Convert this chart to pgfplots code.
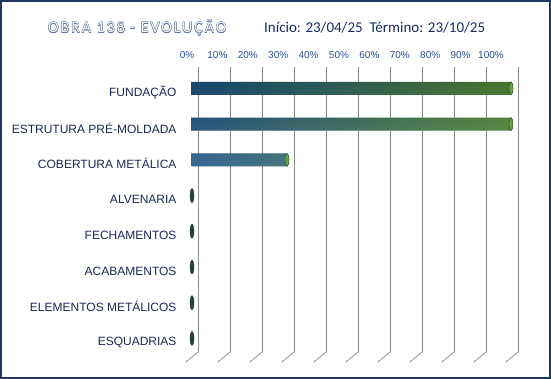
\documentclass[border=0pt]{standalone}
\usepackage{pgfplots}
\pgfplotsset{compat=1.18}
\usepackage{pgfplotstable}
\usepackage{fontspec}
\setmainfont{Liberation Sans}
\newfontfamily\calib{Carlito}
\newfontfamily\calibsp[LetterSpace=12]{Carlito}
\definecolor{frame}{RGB}{31,56,100}
\definecolor{barblue}{RGB}{30,88,140}
\definecolor{bargreen}{RGB}{92,148,60}
\definecolor{capgreen}{RGB}{104,162,70}
\definecolor{capedge}{RGB}{50,90,40}
\definecolor{zerogreen}{RGB}{36,66,50}
\definecolor{ticklab}{RGB}{40,80,150}
\definecolor{catlab}{RGB}{28,40,88}
\definecolor{titleedge}{RGB}{95,118,150}
\definecolor{titlefill}{RGB}{242,245,249}
\definecolor{datecol}{RGB}{25,45,100}
\pgfplotstableread{
idx value
0 100
1 100
2 30
3 0
4 0
5 0
6 0
7 0
}\progress
\begin{document}
\begin{tikzpicture}
\path[use as bounding box] (0pt,0pt) rectangle (551pt,379pt);
\fill[white] (0pt,0pt) rectangle (551pt,379pt);
\draw[frame, line width=2.2pt] (1.1pt,1.1pt) rectangle (549.9pt,377.9pt);
% title
\foreach \dx/\dy in {-0.3/0,0.3/0,0/-0.3,0/0.3,-0.22/-0.22,0.22/0.22,-0.22/0.22,0.22/-0.22}{
  \node[anchor=base west, inner sep=0pt, text=titleedge, font=\calibsp\fontsize{16}{19}\selectfont] at (48pt+\dx pt,346pt+\dy pt) {OBRA 138 - EVOLUÇÃO};
}
\node[anchor=base west, inner sep=0pt, text=titlefill, font=\calibsp\fontsize{16}{19}\selectfont] at (48pt,346pt) {OBRA 138 - EVOLUÇÃO};
\node[anchor=base west, inner sep=0pt, text=datecol, font=\calib\fontsize{15}{18}\selectfont] at (264pt,346pt) {Início: 23/04/25\ \ Término: 23/10/25};
% main axis
\begin{axis}[
  at={(198pt,27pt)}, anchor=south west,
  scale only axis, width=320pt, height=285pt,
  xmin=0, xmax=100, ymin=-0.6, ymax=7.38,
  y dir=reverse,
  axis line style={draw=none},
  xtick={0,10,...,100}, xticklabels={},
  major tick length=0pt,
  xmajorgrids, major grid style={draw=gray!90, line width=0.8pt},
  ytick={0,...,7},
  yticklabels={FUNDAÇÃO,ESTRUTURA PRÉ-MOLDADA,COBERTURA METÁLICA,ALVENARIA,FECHAMENTOS,ACABAMENTOS,ELEMENTOS METÁLICOS,ESQUADRIAS},
  yticklabel style={font=\fontsize{12}{14}\selectfont, text=catlab, anchor=east, xshift=-18pt, yshift=-4pt},
  clip=false,
]
\pgfplotsinvokeforeach{0,10,...,100}{
  \draw[gray!90, line width=0.8pt] (axis cs:#1,7.38) -- ++(-12pt,-10pt);
}
\addplot[xbar, bar width=13pt, draw=none, left color=barblue, right color=bargreen, xshift=-7pt]
  table[x=value, y=idx] {\progress};
\addplot[xbar, bar width=13pt, draw=none, top color=black, bottom color=black, middle color=white, fill opacity=0.22, xshift=-7pt]
  table[x=value, y=idx] {\progress};
\addplot[only marks, mark=*, mark size=6.5pt, mark options={xscale=0.3, fill=capgreen, draw=capedge, line width=0.6pt}, xshift=-7pt, restrict x to domain=0.5:200]
  table[x=value, y=idx] {\progress};
\addplot[only marks, mark=*, mark size=7pt, mark options={xscale=0.28, fill=zerogreen, draw=zerogreen}, xshift=-6pt, restrict x to domain=-1:0.5]
  table[x=value, y=idx] {\progress};
\end{axis}
% tick labels overlay
\begin{axis}[
  at={(187pt,27pt)}, anchor=south west,
  scale only axis, width=304pt, height=285pt,
  xmin=0, xmax=100, ymin=-0.6, ymax=7.38,
  axis line style={draw=none},
  major tick length=0pt,
  ytick=\empty,
  xtick={0,10,...,100},
  xticklabels={0\%,10\%,20\%,30\%,40\%,50\%,60\%,70\%,80\%,90\%,100\%},
  xticklabel pos=upper,
  xticklabel style={font=\fontsize{10}{12}\selectfont, text=ticklab, yshift=5pt},
]
\addplot[draw=none] coordinates {(0,0)};
\end{axis}
\end{tikzpicture}
\end{document}
